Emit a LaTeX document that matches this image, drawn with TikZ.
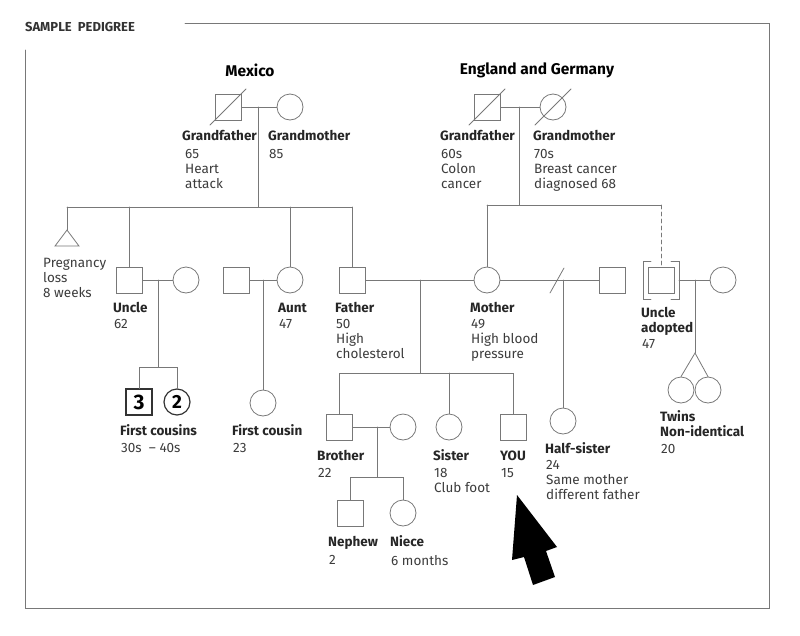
\documentclass[tikz,border=0pt]{standalone}
\usepackage{fontspec}
\setmainfont{Fira Sans}
\usepackage{xcolor}
\definecolor{linegray}{RGB}{120,120,120}
\definecolor{textgray}{RGB}{60,60,60}

\begin{document}
\begin{tikzpicture}[x=1pt,y=-1pt,line cap=round]
	\tikzstyle{male}=[draw=linegray,rectangle,minimum size=26pt,inner sep=0pt,line width=.8pt];
	\tikzstyle{female}=[draw=linegray,circle,minimum size=26pt,inner sep=0pt,line width=.8pt];
	\tikzstyle{rel}=[draw=linegray,line width=.8pt];
	\tikzstyle{who}=[anchor=base west,inner sep=0pt,font=\fontsize{13.5}{15}\selectfont\bfseries,text=black!85];
	\tikzstyle{info}=[anchor=north west,yshift=10pt,inner sep=0pt,align=left,font=\fontsize{13.5}{15}\selectfont,text=textgray];
	\useasboundingbox (0,0) rectangle (800,635);
	% frame
	\node[anchor=base west,inner sep=0pt,font=\fontsize{13}{14}\selectfont\bfseries,text=black!80] (title) at (25,31) {SAMPLE\ \ PEDIGREE};
	\draw[linegray,line width=.8pt] (185,23) -- (769,23) -- (769,608) -- (25,608) -- (25,50);
	\node[font=\fontsize{15.5}{17}\selectfont\bfseries] (mex) at (250,70) {Mexico};
	\node[font=\fontsize{15.5}{17}\selectfont\bfseries] (eng) at (537,70) {England and Germany};
	% Mexico grandparents
	\node[male] (mgf) at (228,107) {};
	\node[female] (mgm) at (290,107) {};
	\draw[linegray,line width=.8pt] (210,125) -- (246,89);
	\draw[rel] (mgf) -- (mgm);
	\coordinate (mc) at (258,107);
	\coordinate (ms) at (258,207);
	\draw[rel] (mc) -- (ms);
	\node[who] (lmgf) at (182,140) {Grandfather};
	\node[info] (imgf) at (185,159) {65\\Heart\\attack};
	\node[who] (lmgm) at (268,140) {Grandmother};
	\node[info] (imgm) at (269,159) {85};
	% England grandparents
	\node[male] (egf) at (487,107) {};
	\node[female] (egm) at (553,107) {};
	\draw[linegray,line width=.8pt] (469,125) -- (505,89);
	\draw[linegray,line width=.8pt] (535,125) -- (571,89);
	\draw[rel] (egf) -- (egm);
	\coordinate (ec) at (519,107);
	\coordinate (es) at (519,205);
	\draw[rel] (ec) -- (es);
	\node[who] (legf) at (440,140) {Grandfather};
	\node[info] (iegf) at (441,159) {60s\\Colon\\cancer};
	\node[who] (legm) at (533,140) {Grandmother};
	\node[info] (iegm) at (534,159) {70s\\Breast cancer\\diagnosed 68};
	% Mexico children
	\draw[linegray,line width=.8pt] (55,246) -- (67,230) -- (79,246) -- cycle;
	\coordinate (loss) at (67,230);
	\node[male] (unc) at (129,280) {};
	\node[female] (uncw) at (186,280) {};
	\node[male] (auth) at (236,280) {};
	\node[female] (aunt) at (290,280) {};
	\node[male] (fat) at (352,280) {};
	\draw[rel] (67,207) -- (352,207);
	\draw[rel] (67,207) -- (loss);
	\draw[rel] (129,207) -- (unc);
	\draw[rel] (290,207) -- (aunt);
	\draw[rel] (352,207) -- (fat);
	\node[info] (iloss) at (43,268) {Pregnancy\\loss\\8 weeks};
	\node[who] (lunc) at (113,312) {Uncle};
	\node[info] (iunc) at (114,329) {62};
	\node[who] (launt) at (278,312) {Aunt};
	\node[info] (iaunt) at (279,329) {47};
	\node[who] (lfat) at (335,312) {Father};
	\node[info] (ifat) at (336,329) {50\\High\\cholesterol};
	% uncle's family
	\draw[rel] (unc) -- (uncw);
	\coordinate (uc) at (158,280);
	\coordinate (us) at (158,367);
	\draw[rel] (uc) -- (us);
	\node[male,line width=1.2pt,draw=black!80,font=\fontsize{21}{21}\selectfont\bfseries] (cous3) at (139,402) {3};
	\node[female,line width=1.2pt,draw=black!80,font=\fontsize{19}{19}\selectfont\bfseries] (cous2) at (177,402) {2};
	\draw[rel] (cous3) -- (139,367) -- (177,367) -- (cous2);
	\node[who] (lcous) at (120,435) {First cousins};
	\node[info] (icous) at (121,453) {30s\ \ -- 40s};
	% aunt's family
	\draw[rel] (auth) -- (aunt);
	\node[female] (cous1) at (263,403) {};
	\draw[rel] (263,280) -- (cous1);
	\node[who] (lcous1) at (232,435) {First cousin};
	\node[info] (icous1) at (233,453) {23};
	% parents
	\node[female] (mot) at (487,280) {};
	\node[male] (hsf) at (612,280) {};
	\draw[rel] (fat) -- (mot);
	\draw[rel] (mot) -- (hsf);
	\draw[linegray,line width=.8pt] (550,293) -- (564,268);
	\draw[rel] (487,205) -- (mot);
	\node[who] (lmot) at (470,312) {Mother};
	\node[info] (imot) at (471,329) {49\\High blood\\pressure};
	% adopted uncle
	\node[male] (adu) at (661,280) {};
	\draw[linegray,line width=.8pt] (651,261) -- (643,261) -- (643,299) -- (651,299);
	\draw[linegray,line width=.8pt] (671,261) -- (679,261) -- (679,299) -- (671,299);
	\draw[rel] (487,205) -- (661,205);
	\draw[rel,dashed,dash pattern=on 4pt off 3pt] (661,205) -- (661,266);
	\node[female] (aduw) at (723,280) {};
	\draw[rel] (679,280) -- (aduw);
	\coordinate (ac) at (695,280);
	\coordinate (at) at (695,353);
	\draw[rel] (ac) -- (at);
	\node[female] (tw1) at (681,390) {};
	\node[female] (tw2) at (708,390) {};
	\draw[rel] (tw1.north) -- (at) -- (tw2.north);
	\node[who] (ladu) at (641,317) {Uncle};
	\node[who] (ladu2) at (641,332) {adopted};
	\node[info] (iadu) at (642,349) {47};
	\node[who] (ltw) at (660,421) {Twins};
	\node[who] (ltw2) at (660,436) {Non-identical};
	\node[info] (itw) at (661,454) {20};
	% siblings
	\coordinate (pc) at (420,280);
	\coordinate (ps) at (420,373);
	\draw[rel] (pc) -- (ps);
	\node[male] (bro) at (339,427) {};
	\node[female] (sis) at (449,427) {};
	\node[male] (you) at (513,427) {};
	\draw[rel] (bro) -- (339,373) -- (513,373) -- (you);
	\draw[rel] (449,373) -- (sis);
	\node[who] (lbro) at (317,460) {Brother};
	\node[info] (ibro) at (318,478) {22};
	\node[who] (lsis) at (433,460) {Sister};
	\node[info] (isis) at (434,478) {18\\Club foot};
	\node[who] (lyou) at (500,460) {YOU};
	\node[info] (iyou) at (501,478) {15};
	% half-sister
	\node[female] (hsis) at (563,421) {};
	\draw[rel] (563,280) -- (hsis);
	\node[who] (lhsis) at (545,453) {Half-sister};
	\node[info] (ihsis) at (546,470) {24\\Same mother\\different father};
	% brother's family
	\node[female] (brow) at (403,427) {};
	\draw[rel] (bro) -- (brow);
	\coordinate (bc) at (377,427);
	\coordinate (bs) at (377,477);
	\draw[rel] (bc) -- (bs);
	\node[male] (nep) at (350,513) {};
	\node[female] (nie) at (403,513) {};
	\draw[rel] (nep) -- (350,477) -- (403,477) -- (nie);
	\node[who] (lnep) at (328,546) {Nephew};
	\node[info] (inep) at (329,565) {2};
	\node[who] (lnie) at (390,546) {Niece};
	\node[info] (inie) at (391,565) {6 months};
	% pointer
	\fill[black] (517,495) -- (557,547) -- (546,551) -- (555,577) -- (533,585) -- (524,557) -- (512,560) -- cycle;
\end{tikzpicture}
\end{document}
